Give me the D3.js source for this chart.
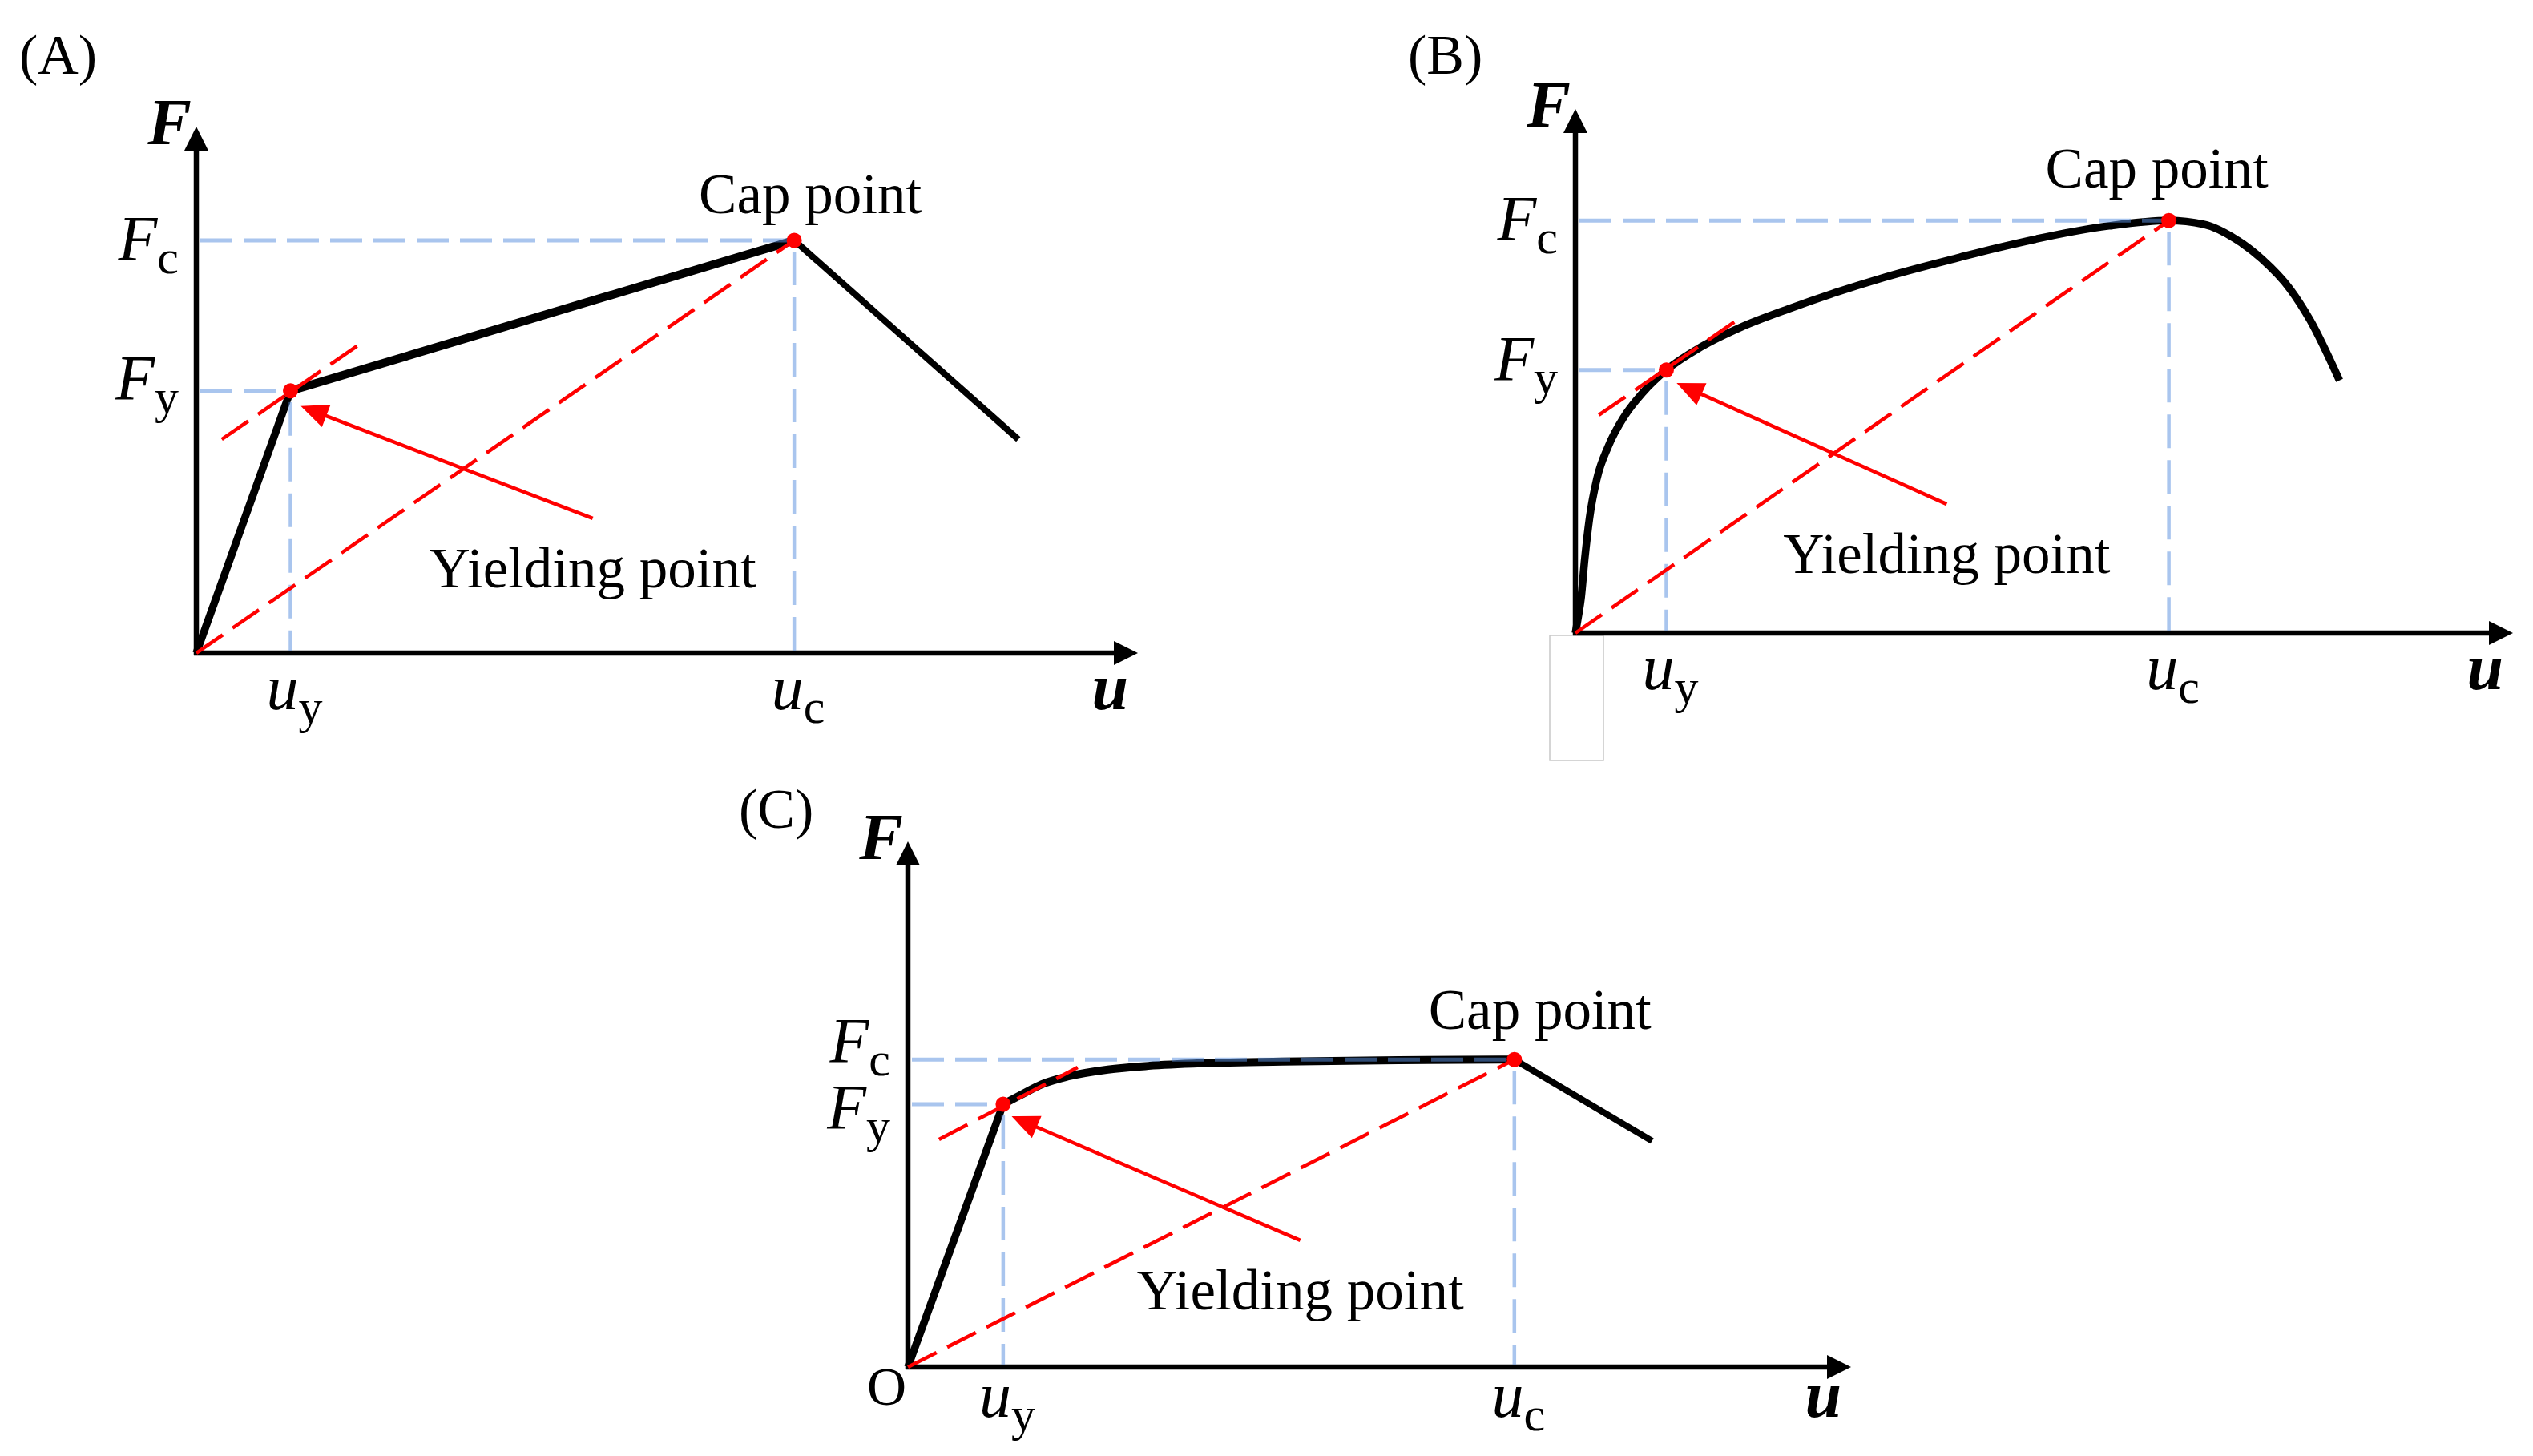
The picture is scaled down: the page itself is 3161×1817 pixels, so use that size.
<!DOCTYPE html>
<html>
<head>
<meta charset="utf-8">
<script src="https://cdn.jsdelivr.net/npm/d3@7"></script>
<style>
    body { margin: 0; background: #fff; }
    text { font-family: "Liberation Serif", "Times New Roman", serif; fill: #000; }
</style>
</head>
<body>
<div id="chart"></div>
<script>
// ---- data (u and F in arbitrary units, 0-10 on each axis) ----
let elasticA = [[0, 0], [1.00, 4.98]];
let hardenA = [[1.00, 4.98], [6.35, 7.84]];
let softenA = [[6.35, 7.84], [8.73, 4.06]];

let curveB = [[0, 0], [0.03, 0.31], [0.06, 0.66], [0.10, 1.42], [0.15, 2.19], [0.23, 2.95],
    [0.35, 3.56], [0.52, 4.13], [0.72, 4.59], [0.97, 5.02], [1.34, 5.46], [1.77, 5.84],
    [2.28, 6.19], [3.30, 6.79], [4.10, 7.17], [4.50, 7.35], [5.69, 7.77], [6.33, 7.87], [6.70, 7.80],
    [7.04, 7.52], [7.32, 7.14], [7.62, 6.57], [7.84, 5.96], [8.15, 4.82]];

let elasticC = [[0, 0], [1.01, 5.00]];
let hardenC = [[1.01, 5.00], [1.19, 5.17], [1.42, 5.38], [1.70, 5.53], [2.12, 5.66], [2.55, 5.73],
    [3.12, 5.78], [3.97, 5.81], [5.20, 5.84], [6.43, 5.85]];
let softenC = [[6.43, 5.85], [7.89, 4.30]];

let yieldPts = [[1.00, 4.98], [0.97, 5.02], [1.01, 5.00]];
let capPts = [[6.35, 7.84], [6.33, 7.87], [6.43, 5.85]];

let tangents = [[[0.27, 4.06], [1.77, 5.91]], [[0.25, 4.16], [1.74, 5.99]], [[0.33, 4.33], [1.80, 5.70]]];
let arrows = [[[4.21, 2.56], [1.11, 4.69]], [[3.96, 2.46], [1.08, 4.77]], [[4.16, 2.41], [1.10, 4.77]]];

let panelNames = ["(A)", "(B)", "(C)"];
let capLabel = "Cap point";
let yieldLabel = "Yielding point";

// ---- layout ----
let W = 3161, H = 1817;
let svg = d3.select("#chart").append("svg")
    .attr("width", W)
    .attr("height", H);

let panels = [
    {ox: 245, oy: 815, xTip: 1420, yTip: 158, letter: [24, 92], fDy: [25, 11], uDy: 70,
        capOff: [20, -34], pieces: [[elasticA, false, 9.5], [hardenA, false, 10.5], [softenA, false, 8]]},
    {ox: 1966, oy: 790, xTip: 3136, yTip: 136, letter: [1757, 92], fDy: [25, 13], uDy: 70,
        capOff: [-15, -41], pieces: [[curveB, true, 9.5]], box: true},
    {ox: 1133, oy: 1706, xTip: 2310, yTip: 1050, letter: [922, 1033], fDy: [4, 31], uDy: 62,
        capOff: [32, -38], pieces: [[elasticC, false, 9.5], [hardenC, true, 10], [softenC, false, 8]], origin: true}
];

panels.forEach((p, i) => drawPanel(p, i));

function drawPanel(p, i) {
    let x = d3.scaleLinear().domain([0, 10]).range([p.ox, p.xTip]);
    let y = d3.scaleLinear().domain([0, 10]).range([p.oy, p.yTip]);
    let g = svg.append("g").attr("class", "panel");

    // stray grey frame under panel B origin
    if (p.box) {
        g.append("rect")
            .attr("x", p.ox - 32).attr("y", p.oy + 3)
            .attr("width", 67).attr("height", 156)
            .attr("fill", "#fff").attr("stroke", "#c8c8c8").attr("stroke-width", 1.5);
    }

    // axes
    let ah = 30, aw = 15;
    g.append("line")
        .attr("x1", p.ox).attr("y1", p.oy + 3)
        .attr("x2", p.ox).attr("y2", p.yTip + ah - 2)
        .attr("stroke", "#000").attr("stroke-width", 6.5);
    g.append("path")
        .attr("d", `M${p.ox},${p.yTip} L${p.ox - aw},${p.yTip + ah} L${p.ox + aw},${p.yTip + ah} Z`)
        .attr("fill", "#000");
    g.append("line")
        .attr("x1", p.ox - 3).attr("y1", p.oy)
        .attr("x2", p.xTip - ah + 2).attr("y2", p.oy)
        .attr("stroke", "#000").attr("stroke-width", 6.5);
    g.append("path")
        .attr("d", `M${p.xTip},${p.oy} L${p.xTip - ah},${p.oy - aw} L${p.xTip - ah},${p.oy + aw} Z`)
        .attr("fill", "#000");

    // force-displacement curve
    p.pieces.forEach(function (pc) {
        let line = d3.line()
            .x(d => x(d[0]))
            .y(d => y(d[1]))
            .curve(pc[1] ? d3.curveMonotoneX : d3.curveLinear);
        g.append("path")
            .attr("d", line(pc[0]))
            .attr("fill", "none")
            .attr("stroke", "#000")
            .attr("stroke-width", pc[2])
            .attr("stroke-linejoin", "round");
    });

    // blue guide lines
    let guides = [yieldPts[i], capPts[i]];
    guides.forEach(function (pt) {
        g.append("line")
            .attr("x1", p.ox + 5).attr("y1", y(pt[1]))
            .attr("x2", x(pt[0])).attr("y2", y(pt[1]))
            .attr("stroke", "#5b8fde").attr("stroke-opacity", 0.52)
            .attr("stroke-width", 5).attr("stroke-dasharray", "40,14");
        g.append("line")
            .attr("x1", x(pt[0])).attr("y1", y(pt[1]) + 14)
            .attr("x2", x(pt[0])).attr("y2", p.oy - 3)
            .attr("stroke", "#5b8fde").attr("stroke-opacity", 0.52)
            .attr("stroke-width", 4.5).attr("stroke-dasharray", "42,15");
    });

    // red dashed secant and tangent
    let red = "#ff0000";
    [[[0, 0], capPts[i]], tangents[i]].forEach(function (seg) {
        g.append("line")
            .attr("x1", x(seg[0][0])).attr("y1", y(seg[0][1]))
            .attr("x2", x(seg[1][0])).attr("y2", y(seg[1][1]))
            .attr("stroke", red).attr("stroke-width", 4.5)
            .attr("stroke-dasharray", "40,15");
    });

    // red arrow to yielding point
    let a = arrows[i];
    let tx = x(a[0][0]), ty = y(a[0][1]), hx = x(a[1][0]), hy = y(a[1][1]);
    let len = Math.hypot(hx - tx, hy - ty);
    let ux = (hx - tx) / len, uy = (hy - ty) / len;
    let hl = 34, hw = 15;
    let bx = hx - ux * hl, by = hy - uy * hl;
    g.append("line")
        .attr("x1", tx).attr("y1", ty)
        .attr("x2", bx + ux * 2).attr("y2", by + uy * 2)
        .attr("stroke", red).attr("stroke-width", 4.5);
    g.append("path")
        .attr("d", `M${hx},${hy} L${bx - uy * hw},${by + ux * hw} L${bx + uy * hw},${by - ux * hw} Z`)
        .attr("fill", red);

    // red dots
    guides.forEach(function (pt) {
        g.append("circle")
            .attr("cx", x(pt[0])).attr("cy", y(pt[1]))
            .attr("r", 9.5).attr("fill", red);
    });

    // ---- texts ----
    g.append("text")
        .attr("x", p.letter[0]).attr("y", p.letter[1])
        .attr("font-size", 70)
        .text(panelNames[i]);

    // axis names
    g.append("text")
        .attr("x", p.ox - 6).attr("y", p.yTip + 22)
        .attr("text-anchor", "end")
        .attr("font-size", 82).attr("font-weight", "bold").attr("font-style", "italic")
        .text("F");
    g.append("text")
        .attr("x", p.xTip - 12).attr("y", p.oy + p.uDy)
        .attr("text-anchor", "end")
        .attr("font-size", 82).attr("font-weight", "bold").attr("font-style", "italic")
        .text("u");

    // Fc, Fy on the F axis
    let fLabels = [["y", yieldPts[i][1], p.fDy[1]], ["c", capPts[i][1], p.fDy[0]]];
    fLabels.forEach(function (fl) {
        let t = g.append("text")
            .attr("x", p.ox - 22).attr("y", y(fl[1]) + fl[2])
            .attr("text-anchor", "end");
        t.append("tspan").attr("font-size", 80).attr("font-style", "italic").text("F");
        t.append("tspan").attr("font-size", 60).attr("dy", 16).text(fl[0]);
    });

    // uy, uc on the u axis
    let uLabels = [["y", yieldPts[i][0]], ["c", capPts[i][0]]];
    uLabels.forEach(function (ul) {
        let t = g.append("text")
            .attr("x", x(ul[1]) + 5).attr("y", p.oy + p.uDy)
            .attr("text-anchor", "middle");
        t.append("tspan").attr("font-size", 80).attr("font-style", "italic").text("u");
        t.append("tspan").attr("font-size", 60).attr("dy", 17).text(ul[0]);
    });

    if (p.origin) {
        g.append("text")
            .attr("x", p.ox - 2).attr("y", p.oy + 47)
            .attr("text-anchor", "end")
            .attr("font-size", 68)
            .text("O");
    }

    // annotations
    g.append("text")
        .attr("x", x(capPts[i][0]) + p.capOff[0]).attr("y", y(capPts[i][1]) + p.capOff[1])
        .attr("text-anchor", "middle")
        .attr("font-size", 71)
        .text(capLabel);
    g.append("text")
        .attr("x", tx).attr("y", ty + 86)
        .attr("text-anchor", "middle")
        .attr("font-size", 71)
        .text(yieldLabel);
}
</script>
</body>
</html>
